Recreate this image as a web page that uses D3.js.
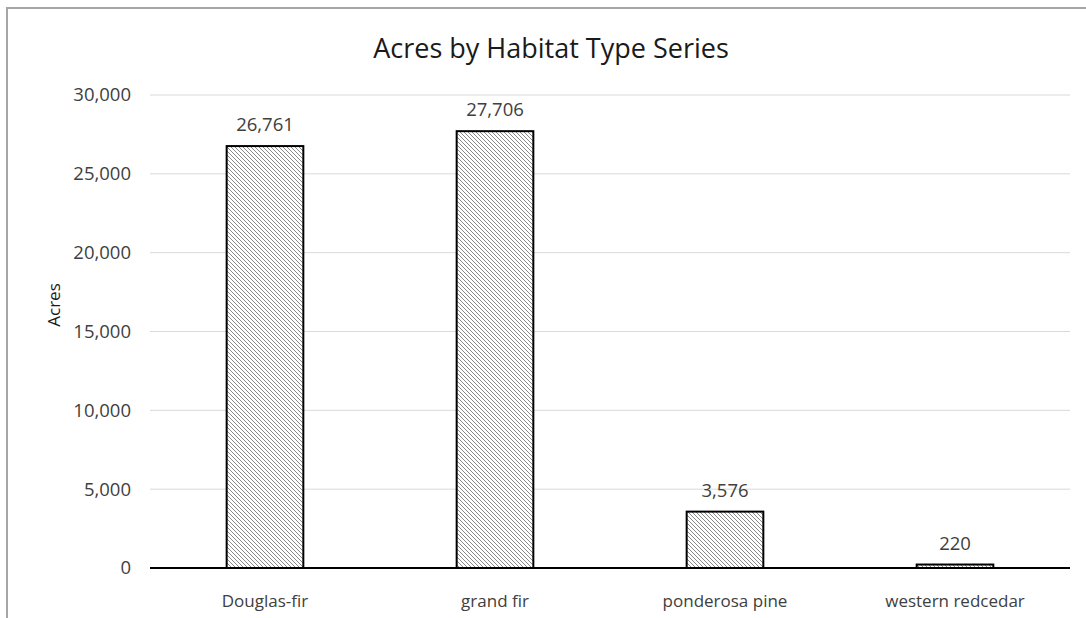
<!DOCTYPE html>
<html>
<head>
<meta charset="utf-8">
<script src="https://cdn.jsdelivr.net/npm/d3@7"></script>
<style>
  html, body { margin: 0; padding: 0; background: #fff; }
  svg { display: block; font-family: "Open Sans", "Liberation Sans", sans-serif; }
</style>
</head>
<body>
<svg id="chart" width="1086" height="618"></svg>
<script>
// Habitat type series and their acreage
const categories = ["Douglas-fir", "grand fir", "ponderosa pine", "western redcedar"];
const acres = [26761, 27706, 3576, 220];
const yTicks = [0, 5000, 10000, 15000, 20000, 25000, 30000];
const titleText = "Acres by Habitat Type Series";
const yAxisTitle = "Acres";

const svg = d3.select("#chart");
const W = 1086, H = 618;
const plot = { left: 150, right: 1070, top: 95, bottom: 568 };

// Outer frame of the chart area
svg.append("rect")
  .attr("x", 7).attr("y", 8)
  .attr("width", W + 20).attr("height", H + 20)
  .attr("fill", "#fff")
  .attr("stroke", "#a6a6a6").attr("stroke-width", 2);

// Diagonal hatch fill for bars
const defs = svg.append("defs");
const pat = defs.append("pattern")
  .attr("id", "hatch")
  .attr("patternUnits", "userSpaceOnUse")
  .attr("width", 4).attr("height", 4);
pat.append("rect").attr("width", 4).attr("height", 4).attr("fill", "#fff");
pat.append("path")
  .attr("d", "M-1,-1 L5,5 M-1,3 L1,5 M3,-1 L5,1")
  .attr("stroke", "#8a8a8a").attr("stroke-width", 1);

const x = d3.scaleBand()
  .domain(categories)
  .range([plot.left, plot.right])
  .paddingInner(2 / 3)
  .paddingOuter(1 / 3);

const y = d3.scaleLinear()
  .domain([0, 30000])
  .range([plot.bottom, plot.top]);

const fmt = d3.format(",");

// Horizontal gridlines
svg.append("g")
  .selectAll("line")
  .data(yTicks.filter(d => d > 0))
  .join("line")
  .attr("x1", plot.left).attr("x2", plot.right)
  .attr("y1", d => y(d)).attr("y2", d => y(d))
  .attr("stroke", "#d9d9d9").attr("stroke-width", 1);

// Y axis tick labels
const yAxis = d3.axisLeft(y).tickValues(yTicks).tickFormat(fmt).tickSize(0).tickPadding(19);
const gy = svg.append("g").attr("transform", `translate(${plot.left},0)`).call(yAxis);
gy.select(".domain").remove();
gy.selectAll("text")
  .attr("font-size", 18.5)
  .attr("fill", "#404040")
  .attr("font-family", "'Open Sans', sans-serif");

// Bars
svg.append("g")
  .selectAll("rect")
  .data(categories.map((c, i) => ({ c, v: acres[i] })))
  .join("rect")
  .attr("x", d => x(d.c))
  .attr("y", d => y(d.v))
  .attr("width", x.bandwidth())
  .attr("height", d => y(0) - y(d.v))
  .attr("fill", "url(#hatch)")
  .attr("stroke", "#000")
  .attr("stroke-width", 2);

// Value labels above bars
svg.append("g")
  .selectAll("text")
  .data(categories.map((c, i) => ({ c, v: acres[i] })))
  .join("text")
  .attr("x", d => x(d.c) + x.bandwidth() / 2)
  .attr("y", d => y(d.v) - 15)
  .attr("text-anchor", "middle")
  .attr("font-size", 18.5)
  .attr("fill", "#404040")
  .text(d => fmt(d.v));

// Category axis with baseline
const xAxis = d3.axisBottom(x).tickSize(0).tickPadding(27);
const gx = svg.append("g").attr("transform", `translate(0,${plot.bottom})`).call(xAxis);
gx.select(".domain").attr("stroke", "#000").attr("stroke-width", 2)
  .attr("d", `M${plot.left},0H${plot.right}`);
gx.selectAll("text")
  .attr("font-size", 17)
  .attr("fill", "#404040")
  .attr("font-family", "'Open Sans', sans-serif");

// Title
svg.append("text")
  .attr("x", 551).attr("y", 58)
  .attr("text-anchor", "middle")
  .attr("font-size", 27)
  .attr("fill", "#1a1a1a")
  .text(titleText);

// Y axis title
svg.append("text")
  .attr("transform", `translate(60,305) rotate(-90)`)
  .attr("text-anchor", "middle")
  .attr("font-size", 17)
  .attr("fill", "#1a1a1a")
  .text(yAxisTitle);
</script>
</body>
</html>
